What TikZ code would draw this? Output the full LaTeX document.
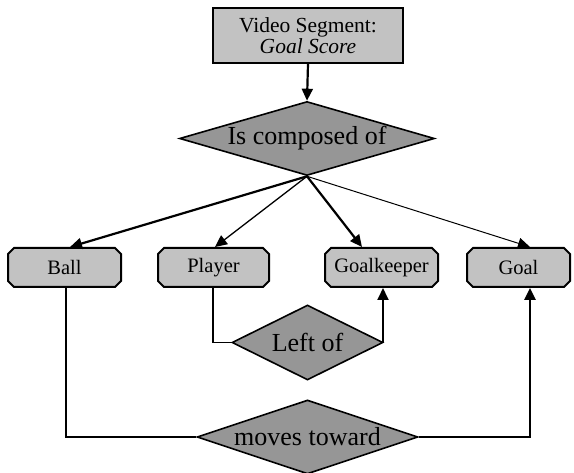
\documentclass[tikz,border=0pt]{standalone}
\usepackage{fontspec}
\setmainfont{Liberation Serif}
\usetikzlibrary{shapes.geometric,shapes.misc,arrows.meta}
\definecolor{boxgray}{RGB}{194,194,194}
\definecolor{diagray}{RGB}{150,150,150}
\tikzset{
  entity/.style={chamfered rectangle, chamfered rectangle xsep=3pt, chamfered rectangle ysep=3pt,
    draw=black, line width=2pt, fill=boxgray, inner sep=0pt, font=\fontsize{20.5}{22}\selectfont},
  topbox/.style={rectangle, draw=black, line width=2pt, fill=boxgray, inner sep=0pt,
    align=center, font=\fontsize{21.5}{23}\selectfont},
  relation/.style={diamond, draw=black, line width=1.6pt, fill=diagray, inner sep=0pt,
    font=\fontsize{26}{28}\selectfont},
  tip/.style={-{Triangle[length=12pt,width=11pt]}},
  conn/.style={line width=1.8pt},
}
\begin{document}
\begin{tikzpicture}[x=1pt,y=-1pt]
\useasboundingbox (0,0) rectangle (574,473);
\node[topbox, minimum width=190pt, minimum height=55pt] (seg) at (308,35.5)
  {Video Segment:\\[-2pt]\textit{Goal Score}};
\node[relation, minimum width=255pt, minimum height=74pt, aspect=3.45] (comp) at (307,138.5) {Is composed of};
\node[entity, minimum width=113pt, minimum height=39pt] (ball) at (64.5,267.5) {Ball};
\node[entity, minimum width=111pt, minimum height=39pt] (player) at (213.5,267.5) {Player};
\node[entity, minimum width=113pt, minimum height=39pt] (gk) at (381.5,267.5) {Goalkeeper};
\node[entity, minimum width=103pt, minimum height=39pt] (goal) at (518.5,267.5) {Goal};
\node[relation, minimum width=151pt, minimum height=75pt, aspect=2.0] (left) at (307.5,342.5) {Left of};
\node[relation, minimum width=221pt, minimum height=74pt, aspect=3.0] (moves) at (307.5,437) {moves toward};

\draw[tip, line width=2.2pt] (seg.south) -- (comp.north);
\draw[tip, line width=2.2pt] (comp.south) -- ([xshift=5.5pt]ball.north);
\draw[tip, line width=1.3pt] (comp.south) -- ([xshift=1.5pt]player.north);
\draw[tip, line width=2.2pt] (comp.south) -- ([xshift=-19.5pt]gk.north);
\draw[tip, line width=1pt] (comp.south) -- ([xshift=11.5pt]goal.north);

\draw[conn] ([xshift=-0.5pt]player.south) |- (left.west);
\draw[conn, tip] (left.east) -| ([xshift=1.5pt]gk.south);
\draw[conn] ([xshift=1.5pt]ball.south) |- (moves.west);
\draw[tip, line width=2.5pt] (moves.east) -| ([xshift=11.5pt]goal.south);
\end{tikzpicture}
\end{document}
